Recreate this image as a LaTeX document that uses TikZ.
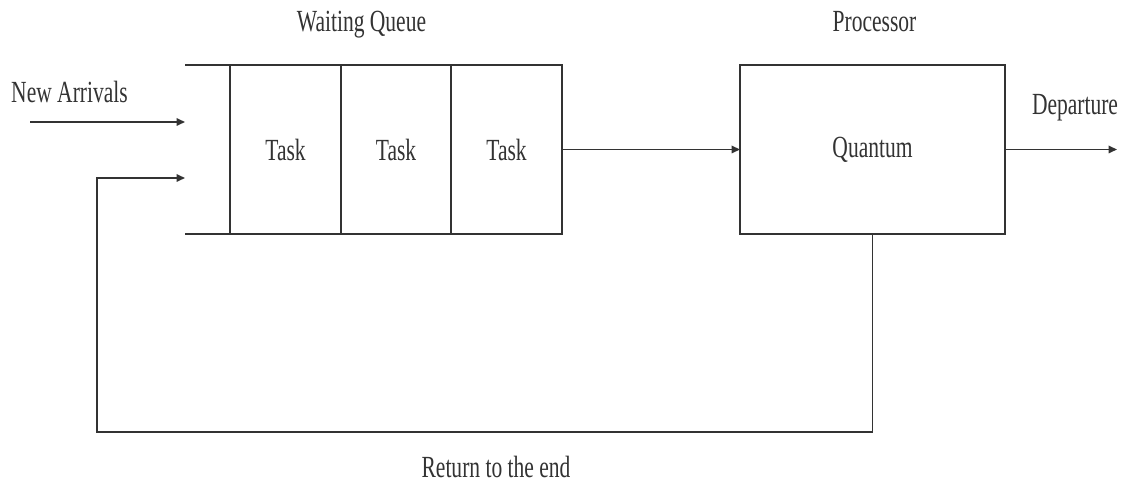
\documentclass[tikz,border=0pt]{standalone}
\usepackage{fontspec}
\setmainfont{Liberation Serif}
\usetikzlibrary{arrows.meta}
\newcommand\nrw[1]{\scalebox{0.7}[1]{#1}}
\begin{document}
\begin{tikzpicture}[x=0.02cm,y=-0.02cm,
  line/.style={draw=black!80,line width=0.95pt},
  arr/.style={line,-{Triangle[length=0.17cm,width=0.15cm]}},
  box/.style={line,rectangle,inner sep=0pt,outer sep=0pt,minimum height=3.38cm},
  cell/.style={box,minimum width=2.21cm},
  lbl/.style={anchor=base,inner sep=0pt},
  every node/.style={font=\fontsize{17.5}{20}\selectfont,text=black!80}]
\useasboundingbox[fill=white] (0,0) rectangle (1121,489);

% waiting queue: three task cells, open on the left
\node[cell] (c1) at (285.5,149.5) {\nrw{Task}};
\node[cell] (c2) at (396,149.5) {\nrw{Task}};
\node[cell] (c3) at (506.5,149.5) {\nrw{Task}};
\coordinate (qtl) at (185,65);
\coordinate (qbl) at (185,234);
\draw[line] (qtl) -- (c1.north west);
\draw[line] (qbl) -- (c1.south west);

% processor
\node[box,minimum width=5.3cm] (proc) at (872.5,149.5) {\nrw{Quantum}};

% titles and labels
\node[lbl] (wq) at (361.5,32) {\nrw{Waiting Queue}};
\node[lbl] (pt) at (874.5,32) {\nrw{Processor}};
\node[lbl] (nl) at (69.5,103) {\nrw{New Arrivals}};
\node[lbl] (dl) at (1075,115) {\nrw{Departure}};
\node[lbl] (rl) at (496,477) {\nrw{Return to the end}};

% connectors
\coordinate (na) at (30,122);
\coordinate (nin) at (185,122);
\coordinate (rin) at (185,178);
\coordinate (rc) at (97,432);
\coordinate (dep) at (1117,149.5);
\draw[arr] (na) -- (nin);
\draw[arr] (c3.east) -- (proc.west);
\draw[arr] (proc.east) -- (dep);
\draw[arr] (proc.south) |- (rc) |- (rin);
\end{tikzpicture}
\end{document}
